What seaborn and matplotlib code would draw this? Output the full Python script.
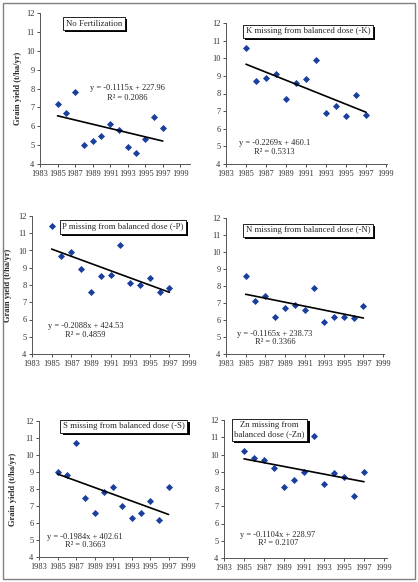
import numpy as np
import pandas as pd
import seaborn as sns
import matplotlib.pyplot as plt
import matplotlib.patheffects as pe
from matplotlib.patches import Rectangle

years = list(range(1985, 1998))

no_fert = [7.2, 6.7, 7.8, 5.0, 5.2, 5.5, 6.1, 5.8, 4.9, 4.6, 5.3, 6.5, 5.9]
minus_k = [10.6, 8.7, 8.9, 9.1, 7.7, 8.6, 8.8, 9.9, 6.9, 7.3, 6.7, 7.9, 6.8]
minus_p = [11.4, 9.7, 9.9, 8.9, 7.6, 8.5, 8.6, 10.3, 8.1, 8.0, 8.4, 7.6, 7.8]
minus_n = [8.6, 7.1, 7.4, 6.2, 6.7, 6.9, 6.6, 7.9, 5.9, 6.2, 6.2, 6.1, 6.8]
minus_s = [9.0, 8.8, 10.7, 7.5, 6.6, 7.8, 8.1, 7.0, 6.3, 6.6, 7.3, 6.2, 8.1]
minus_zn = [10.2, 9.8, 9.7, 9.2, 8.1, 8.5, 9.0, 11.1, 8.3, 8.9, 8.7, 7.6, 9.0]

titles = ['No Fertilization', 'K missing from balanced dose (-K)',
          'P missing from balanced dose (-P)', 'N missing from balanced dose (-N)',
          'S missing from balanced dose (-S)', 'Zn missing from\nbalanced dose (-Zn)']
equations = ['y = -0.1115x + 227.96', 'y = -0.2269x + 460.1', 'y = -0.2088x + 424.53',
             'y = -0.1165x + 238.73', 'y = -0.1984x + 402.61', 'y = -0.1104x + 228.97']
r_squared = ['0.2086', '0.5313', '0.4859', '0.3366', '0.3663', '0.2107']
series = [no_fert, minus_k, minus_p, minus_n, minus_s, minus_zn]

W, H = 418, 582
# axes boxes in pixels: left, top, width, height, xmax
boxes = [(40, 13, 150, 151, 2000.1), (226, 23, 161, 141, 1999.1),
         (32, 216, 157, 138, 1999), (226, 218, 158, 136, 1999.1),
         (39, 421, 149, 136, 1999.1), (224, 420, 163, 138, 1999.3)]
title_pos = [(0.36, 0.93), (0.51, 0.94), (0.58, 0.92), (0.52, 0.91), (0.57, 0.96), (0.28, 0.93)]
eq_pos = [(0.58, 0.50), (0.30, 0.15), (0.34, 0.20), (0.31, 0.15), (0.31, 0.15), (0.33, 0.17)]
ylab_x = {0: -0.12, 2: -0.13, 4: -0.15}

sns.set_style('white')
plt.rcParams['font.family'] = ['Liberation Serif', 'DejaVu Serif']

fig = plt.figure(figsize=(W / 100, H / 100), dpi=100)
fig.patches.append(Rectangle((3 / W, 3 / H), 412 / W, 576 / H, transform=fig.transFigure,
                             fill=False, edgecolor='#808080', linewidth=1))

for i, vals in enumerate(series):
    left, top, w, h, xmax = boxes[i]
    ax = fig.add_axes([left / W, 1 - (top + h) / H, w / W, h / H])
    df = pd.DataFrame({'year': years, 'yield': vals})
    sns.regplot(data=df, x='year', y='yield', ax=ax, ci=None, marker='D',
                scatter_kws={'s': 13, 'color': '#1a3f9c', 'linewidths': 0, 'alpha': 1},
                line_kws={'color': 'black', 'linewidth': 1.2})
    ax.set_xlim(1983, xmax)
    ax.set_ylim(4, 12)
    ax.set_xticks(range(1983, 2000, 2))
    ax.set_yticks(range(4, 13))
    ax.tick_params(axis='both', labelsize=6, length=2.5, width=0.6, direction='out',
                   colors='#333333', pad=1.5, bottom=True, left=True)
    for s in ['top', 'right']:
        ax.spines[s].set_visible(False)
    for s in ['left', 'bottom']:
        ax.spines[s].set_color('#555555')
        ax.spines[s].set_linewidth(0.7)
    ax.set_xlabel('')
    if i in ylab_x:
        ax.set_ylabel('Grain yield (t/ha/yr)', fontsize=6, fontweight='bold')
        ax.yaxis.set_label_coords(ylab_x[i], 0.5)
    else:
        ax.set_ylabel('')
    t = ax.text(*title_pos[i], titles[i], transform=ax.transAxes, ha='center', va='center',
                fontsize=6.3, linespacing=1.1,
                bbox=dict(boxstyle='square,pad=0.3', facecolor='white',
                          edgecolor='black', linewidth=0.6))
    t.get_bbox_patch().set_path_effects([pe.SimplePatchShadow(offset=(1.5, -1.5),
                                                              shadow_rgbFace='black', alpha=1),
                                         pe.Normal()])
    ex, ey = eq_pos[i]
    ax.text(ex, ey, equations[i], transform=ax.transAxes, ha='center', va='center', fontsize=6)
    ax.text(ex, ey - 0.062, 'R² = ' + r_squared[i], transform=ax.transAxes,
            ha='center', va='center', fontsize=6)

fig.savefig('out.png', dpi=100)
